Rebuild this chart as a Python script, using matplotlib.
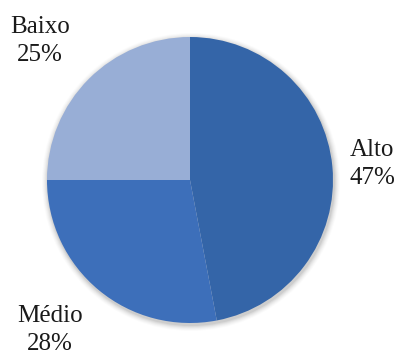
import numpy as np
import matplotlib.pyplot as plt
from matplotlib.patches import Circle

labels = ['Alto', 'Médio', 'Baixo']
values = [47, 28, 25]
colors = ['#3465a8', '#3d6fba', '#98aed6']

plt.rcParams['font.family'] = ['Liberation Serif', 'DejaVu Serif']

fig = plt.figure(figsize=(3.99, 3.57), dpi=100)
ax = fig.add_axes([0, 0, 1, 1])

cx, cy, r = 190, 177, 143

# soft shadow around the pie
for i, a in enumerate(np.linspace(0.05, 0.015, 6)):
    ax.add_patch(Circle((cx + 1, cy - 2), r + 1 + i, color='k', alpha=a, lw=0, zorder=0))

ax.pie(values, colors=colors, startangle=90, counterclock=False,
       center=(cx, cy), radius=r, frame=True,
       wedgeprops=dict(linewidth=0))
ax.set_xlim(0, 399)
ax.set_ylim(0, 357)
ax.set_aspect('equal')
ax.axis('off')

label_pos = [(372, 193), (50, 27), (40, 316)]
for lab, v, (x, y) in zip(labels, values, label_pos):
    ax.text(x, y, f'{lab}\n{v}%', ha='center', va='center', fontsize=18,
            linespacing=1.3, color='#1a1a1a')

fig.savefig('out.png', dpi=100)
